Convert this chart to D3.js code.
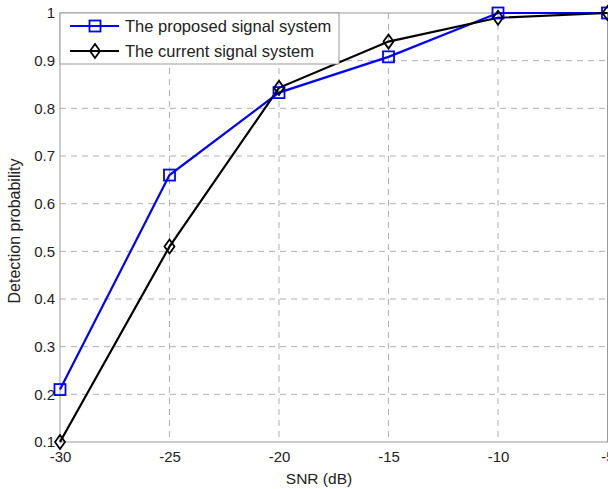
<!DOCTYPE html>
<html><head><meta charset="utf-8">
<script src="https://cdn.jsdelivr.net/npm/d3@7"></script>
<style>body{margin:0;background:#fff}svg{display:block;font-family:"Liberation Sans",Arial,sans-serif}</style>
</head><body>
<svg id="c" width="608" height="489"></svg>
<script>
const snr = [-30, -25, -20, -15, -10, -5];
const proposed = [0.21, 0.66, 0.833, 0.908, 1.0, 1.0];
const current = [0.10, 0.51, 0.843, 0.94, 0.99, 1.0];
const xTicks = [-30, -25, -20, -15, -10, -5];
const yTicks = [0.1, 0.2, 0.3, 0.4, 0.5, 0.6, 0.7, 0.8, 0.9, 1];
const seriesNames = ["The proposed signal system", "The current signal system"];

const svg = d3.select("#c");
const L = 60, R = 607.5, T = 13, B = 442;
const x = d3.scaleLinear().domain([-30, -5]).range([L, R]);
const y = d3.scaleLinear().domain([0.1, 1]).range([B, T]);

// grid
const g = svg.append("g");
g.selectAll(".vx").data(xTicks.slice(1, -1)).join("line")
  .attr("x1", d => x(d)).attr("x2", d => x(d)).attr("y1", T).attr("y2", B)
  .attr("stroke", "#b0b0b0").attr("stroke-width", 1).attr("stroke-dasharray", "6,5");
g.selectAll(".hy").data(yTicks.slice(1, -1)).join("line")
  .attr("y1", d => y(d)).attr("y2", d => y(d)).attr("x1", L).attr("x2", R)
  .attr("stroke", "#b0b0b0").attr("stroke-width", 1).attr("stroke-dasharray", "6,5");

// frame
svg.append("rect").attr("x", L).attr("y", T).attr("width", R - L).attr("height", B - T)
  .attr("fill", "none").attr("stroke", "#999").attr("stroke-width", 1);

// axes tick labels
const xa = d3.axisBottom(x).tickValues(xTicks).tickSize(0).tickPadding(9).tickFormat(d => String(d));
const xg = svg.append("g").attr("transform", `translate(0,${B})`).call(xa);
xg.select(".domain").remove();
xg.selectAll("text").attr("font-size", 15).attr("fill", "#222").attr("font-family", "Liberation Sans, Arial, sans-serif");

const ya = d3.axisLeft(y).tickValues(yTicks).tickSize(0).tickPadding(5).tickFormat(d => d === 1 ? "1" : d3.format(".1f")(d));
const yg = svg.append("g").attr("transform", `translate(${L},0)`).call(ya);
yg.select(".domain").remove();
yg.selectAll("text").attr("font-size", 15).attr("fill", "#222").attr("font-family", "Liberation Sans, Arial, sans-serif");

// axis labels
svg.append("text").attr("x", 319).attr("y", 484).attr("text-anchor", "middle")
  .attr("font-size", 15.5).attr("fill", "#222").text("SNR (dB)");
svg.append("text").attr("transform", `translate(20,231) rotate(-90)`).attr("text-anchor", "middle")
  .attr("font-size", 16).attr("fill", "#222").text("Detection probability");

// lines
const line = d3.line().x(d => x(d[0])).y(d => y(d[1]));
const pData = snr.map((s, i) => [s, proposed[i]]);
const cData = snr.map((s, i) => [s, current[i]]);

svg.append("path").datum(pData).attr("d", line).attr("fill", "none").attr("stroke", "#0000ff").attr("stroke-width", 2.2);
svg.append("path").datum(cData).attr("d", line).attr("fill", "none").attr("stroke", "#000").attr("stroke-width", 2.2);

const sq = 11;
svg.selectAll(".sq").data(pData).join("rect")
  .attr("x", d => x(d[0]) - sq / 2).attr("y", d => y(d[1]) - sq / 2)
  .attr("width", sq).attr("height", sq).attr("fill", "none").attr("stroke", "#0000ff").attr("stroke-width", 1.8);
const dia = (cx, cy) => `M${cx},${cy - 7}L${cx + 5},${cy}L${cx},${cy + 7}L${cx - 5},${cy}Z`;
svg.selectAll(".dm").data(cData).join("path")
  .attr("d", d => dia(x(d[0]), y(d[1]))).attr("fill", "none").attr("stroke", "#000").attr("stroke-width", 1.8);

// legend
const lg = svg.append("g");
lg.append("rect").attr("x", L).attr("y", T).attr("width", 279).attr("height", 51)
  .attr("fill", "#fff").attr("stroke", "#999").attr("stroke-width", 1);
const rows = [T + 13, T + 38];
[0, 1].forEach(i => {
  const cy = rows[i];
  lg.append("line").attr("x1", 70).attr("x2", 119).attr("y1", cy).attr("y2", cy)
    .attr("stroke", i === 0 ? "#0000ff" : "#000").attr("stroke-width", 2.2);
  if (i === 0) {
    lg.append("rect").attr("x", 95 - sq / 2).attr("y", cy - sq / 2).attr("width", sq).attr("height", sq)
      .attr("fill", "none").attr("stroke", "#0000ff").attr("stroke-width", 1.8);
  } else {
    lg.append("path").attr("d", dia(95, cy)).attr("fill", "none").attr("stroke", "#000").attr("stroke-width", 1.8);
  }
  lg.append("text").attr("x", 125).attr("y", cy + 6).attr("font-size", 16.5).attr("fill", "#222").text(seriesNames[i]);
});
</script>
</body></html>
